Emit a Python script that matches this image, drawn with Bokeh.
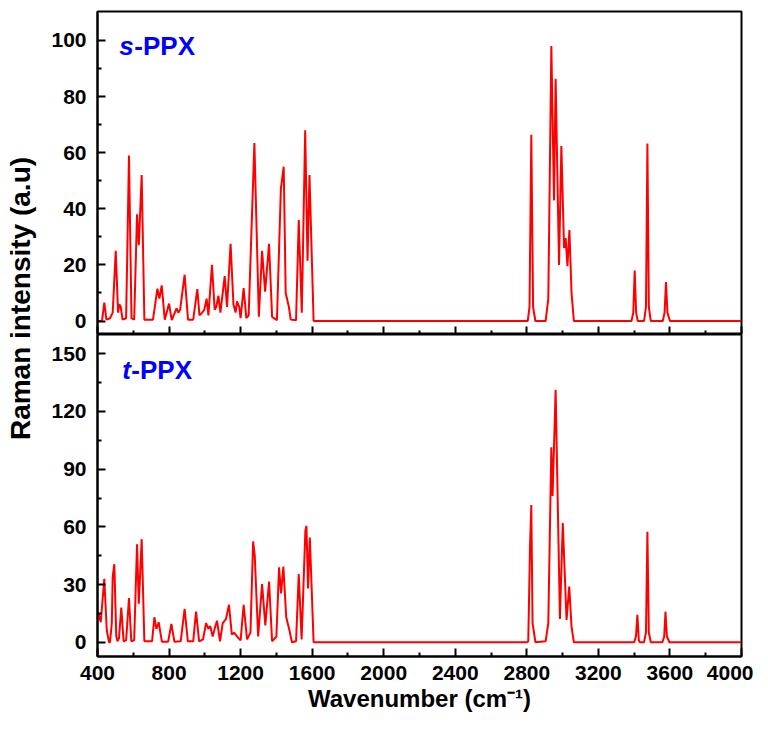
import math
from bokeh.plotting import figure
from bokeh.models import Label, FixedTicker, Range1d, LinearAxis
from bokeh.layouts import row, column
from bokeh.embed import file_html
from bokeh.resources import INLINE

# s-PPX spectrum (wavenumber, intensity)
s_wn = [400, 425, 438, 450, 470, 485, 502, 515, 522, 530, 540, 560, 576, 590, 605, 621, 631, 647, 662,
        710, 735, 746, 759, 776, 800, 815, 842, 852, 862, 887, 906, 935, 958, 970, 985, 997, 1010, 1020,
        1040, 1055, 1064, 1076, 1087, 1111, 1124, 1144, 1160, 1172, 1180, 1192, 1200, 1217, 1232, 1245,
        1277, 1302, 1320, 1337, 1359, 1376, 1403, 1425, 1441, 1452, 1470, 1480, 1510, 1525, 1542, 1561,
        1574, 1585, 1608, 2800, 2805, 2815, 2825, 2835, 2848, 2905, 2920, 2937, 2952, 2961, 2980, 2993,
        3008, 3017, 3027, 3038, 3050, 3063, 3385, 3395, 3403, 3411, 3420, 3455, 3466, 3474, 3482, 3493,
        3560, 3570, 3578, 3586, 3600, 4000]
s_int = [0, 0, 6.6, 0.5, 1, 3, 25, 3, 6, 5, 0.5, 1, 59, 1, 0.5, 38, 27, 52, 0.5,
         0.5, 11.5, 8, 12.7, 0.5, 6.2, 0.3, 4.5, 3, 4, 16.5, 0.5, 0.5, 11.4, 2, 3, 4, 8, 2,
         20, 4, 5, 9, 3, 16, 5, 27.5, 6, 3, 7, 5, 1, 11.7, 1, 2,
         63.4, 1.5, 25, 10.5, 27.5, 1.5, 0.3, 47, 55, 10, 5, 0.5, 0.3, 36, 3, 68,
         21.5, 52, 0, 0, 0, 5, 66.4, 5, 0, 0, 8, 98, 43, 86.3, 20, 62.4,
         26, 29.6, 19.5, 32.4, 10, 0, 0, 3, 18, 3, 0, 0, 5, 63.3, 5, 0,
         0, 3, 13.9, 3, 0, 0]

# t-PPX spectrum
t_wn = [400, 406, 418, 438, 452, 465, 470, 480, 485, 494, 505, 512, 520, 533, 546, 560, 576, 589, 605,
        621, 631, 647, 662, 705, 718, 729, 742, 760, 795, 813, 830, 865, 887, 905, 935, 951, 968, 990,
        1007, 1020, 1030, 1044, 1055, 1068, 1085, 1100, 1118, 1135, 1151, 1164, 1180, 1200, 1217, 1236,
        1255, 1270, 1279, 1298, 1320, 1338, 1359, 1376, 1400, 1415, 1426, 1439, 1455, 1471, 1487, 1510,
        1525, 1541, 1562, 1568, 1577, 1587, 1608, 2800, 2808, 2818, 2825, 2832, 2848, 2905, 2920, 2937,
        2944, 2961, 2985, 3001, 3022, 3037, 3050, 3063, 3400, 3410, 3418, 3426, 3432, 3455, 3466, 3474,
        3482, 3493, 3558, 3568, 3575, 3583, 3597, 4000]
t_int = [14, 14.7, 10.4, 33, 6, 0, 0, 10, 34, 40.6, 3, 0.5, 2, 18, 0.5, 1, 23, 0.5, 1,
         51, 20, 53.6, 0.5, 0.5, 13, 7, 10.4, 0.3, 0.3, 9.5, 0.3, 0.5, 17.3, 0.5, 0.5, 16, 0.5, 1.5,
         10, 7, 8.5, 3, 7, 11.2, 0.5, 10, 12, 19.5, 4, 5, 3, 1, 19.5, 1.5,
         5, 52.4, 45, 3, 30.3, 8.7, 31.6, 0.5, 3, 39, 25.4, 39.4, 13, 7, 0, 0.5,
         35.5, 1.5, 58, 60.5, 28, 54.4, 0, 0, 0.5, 50, 71.4, 10, 0, 0.5, 10, 101.4,
         76, 131.3, 12.1, 62, 11.6, 29, 8, 0, 0, 3, 14.3, 1, 0, 0, 5, 57.5,
         5, 0, 0, 3, 15.9, 3, 0, 0]

x_major = [400, 800, 1200, 1600, 2000, 2400, 2800, 3200, 3600, 4000]
x_minor = [600, 1000, 1400, 1800, 2200, 2600, 3000, 3400, 3800]
s_major = [0, 20, 40, 60, 80, 100]
s_minor = [10, 30, 50, 70, 90]
t_major = [0, 30, 60, 90, 120, 150]
t_minor = [15, 45, 75, 105, 135]

FONT = "Liberation Sans"
RED = "#FF0000"
BLUE = "#0000FF"

H1 = 334
H2 = 394
W = 705
LW = 48


def style_axis(ax):
    ax.axis_line_width = 2
    ax.axis_line_color = "black"
    ax.major_tick_line_width = 2
    ax.minor_tick_line_width = 2
    ax.major_tick_in = 8
    ax.major_tick_out = 0
    ax.minor_tick_in = 4
    ax.minor_tick_out = 0
    ax.major_label_text_font = FONT
    ax.major_label_text_font_style = "bold"
    ax.major_label_text_font_size = "21px"
    ax.major_label_text_color = "black"


def style(p, ymaj, ymin):
    p.grid.visible = False
    p.background_fill_color = "white"
    p.border_fill_color = "white"
    p.outline_line_color = "black"
    p.outline_line_width = 2
    p.outline_line_alpha = 1
    for ax in p.axis:
        style_axis(ax)
    p.yaxis.ticker = FixedTicker(ticks=ymaj, minor_ticks=ymin)
    p.yaxis.major_label_standoff = 11


# ---------------- top panel (s-PPX) ----------------
top = figure(width=W, height=H1, x_range=Range1d(400, 4000), y_range=Range1d(-4.8, 110.3),
             output_backend="svg", toolbar_location=None,
             min_border_left=49, min_border_right=12, min_border_top=11, min_border_bottom=0)
style(top, s_major, s_minor)
# bottom edge of the top panel: inward ticks only, no labels
top.xaxis.ticker = FixedTicker(ticks=[], minor_ticks=x_minor)
top.xaxis.major_label_standoff = 0
ax2 = LinearAxis(ticker=FixedTicker(ticks=[], minor_ticks=x_major))
style_axis(ax2)
ax2.minor_tick_in = 8
ax2.major_label_standoff = 0
ax2.axis_line_color = None
top.add_layout(ax2, "below")
top.line(s_wn, s_int, line_color=RED, line_width=2)
top.add_layout(Label(x=522, y=97.9, text="s", text_font=FONT, text_font_style="bold italic",
                     text_font_size="26px", text_color=BLUE, text_baseline="alphabetic"))
top.add_layout(Label(x=522, y=97.9, x_offset=15, text="-PPX", text_font=FONT, text_font_style="bold",
                     text_font_size="26px", text_color=BLUE, text_baseline="alphabetic"))

# ---------------- bottom panel (t-PPX) ----------------
bot = figure(width=W, height=H2, x_range=top.x_range, y_range=Range1d(-7.4, 160),
             output_backend="svg", toolbar_location=None,
             min_border_left=49, min_border_right=12, min_border_top=0, min_border_bottom=72)
style(bot, t_major, t_minor)
bot.xaxis.ticker = FixedTicker(ticks=x_major, minor_ticks=x_minor)
bot.xaxis.major_label_standoff = 9
bot.xaxis.axis_label = "Wavenumber (cm\u207b\u00b9)"
bot.xaxis.axis_label_text_font = FONT
bot.xaxis.axis_label_text_font_style = "bold"
bot.xaxis.axis_label_text_font_size = "24px"
bot.xaxis.axis_label_text_color = "black"
bot.xaxis.axis_label_standoff = 2
bot.line(t_wn, t_int, line_color=RED, line_width=2)
bot.add_layout(Label(x=539, y=141.3, text="t", text_font=FONT, text_font_style="bold italic",
                     text_font_size="26px", text_color=BLUE, text_baseline="alphabetic"))
bot.add_layout(Label(x=539, y=141.3, x_offset=9, text="-PPX", text_font=FONT, text_font_style="bold",
                     text_font_size="26px", text_color=BLUE, text_baseline="alphabetic"))

# ---------------- shared y-axis title ----------------
HT = H1 + H2
lab = figure(width=LW, height=HT, x_range=Range1d(0, LW), y_range=Range1d(0, HT),
             output_backend="svg", toolbar_location=None,
             x_axis_location=None, y_axis_location=None,
             min_border_left=0, min_border_right=0, min_border_top=0, min_border_bottom=0)
lab.grid.visible = False
lab.outline_line_color = None
lab.add_layout(Label(x=20, y=HT - 298, text="Raman intensity (a.u)", angle=math.pi / 2,
                     text_align="center", text_baseline="middle", text_font=FONT,
                     text_font_style="bold", text_font_size="28px", text_color="black"))

layout = row(lab, column(top, bot))
open("out.html", "w").write(file_html(layout, INLINE))
